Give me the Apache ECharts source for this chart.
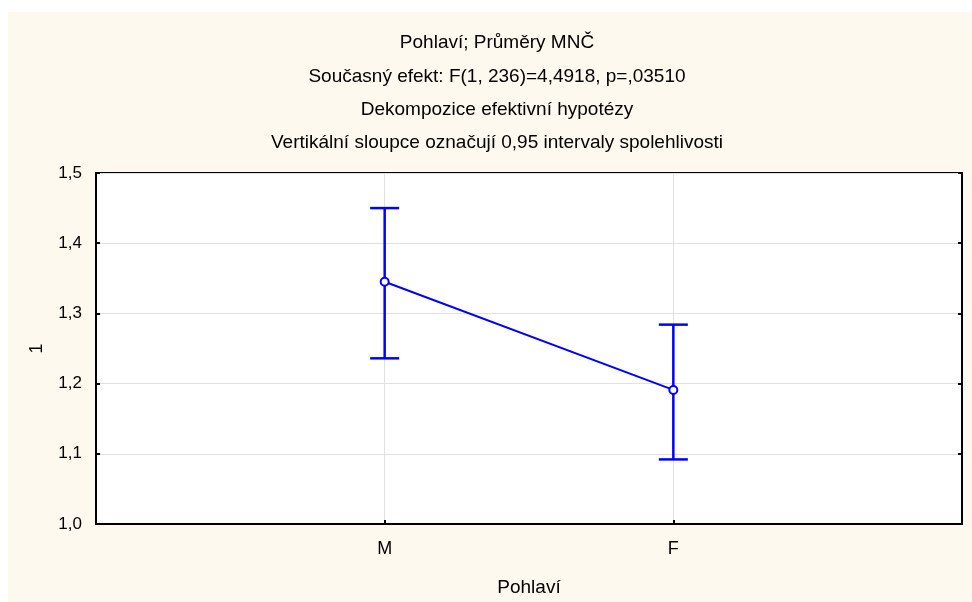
<!DOCTYPE html>
<html>
<head>
<meta charset="utf-8">
<script src="https://cdn.jsdelivr.net/npm/echarts@6/dist/echarts.min.js"></script>
<style>html,body{margin:0;padding:0;background:#fff;}#c{width:972px;height:602px;}</style>
</head>
<body>
<div id="c"></div>
<script>
const categories = ['', 'M', 'F', ''];
const means = [null, 1.345, 1.191, null];
const lower = [null, 1.236, 1.092, null];
const upper = [null, 1.450, 1.284, null];
const yTicks = [1.0, 1.1, 1.2, 1.3, 1.4, 1.5];
const titleLines = [
  'Pohlaví; Průměry MNČ',
  'Současný efekt: F(1, 236)=4,4918, p=,03510',
  'Dekompozice efektivní hypotézy',
  'Vertikální sloupce označují 0,95 intervaly spolehlivosti'
];

const FONT = 'Liberation Sans';
const chart = echarts.init(document.getElementById('c'));
const errData = categories.map((c, i) => [i, lower[i], upper[i]]).filter(d => d[1] != null);
const fmt = v => v.toFixed(1).replace('.', ',');

chart.setOption({
  backgroundColor: '#ffffff',
  animation: false,
  textStyle: { fontFamily: FONT },
  graphic: [
    { type: 'rect', z: -10, shape: { x: 8, y: 12, width: 964, height: 590 }, style: { fill: '#FEF9EE' } }
  ].concat(titleLines.map((t, i) => ({
    type: 'text', x: 497, y: 43 + i * 33.3, z: 10,
    style: { text: t, font: '19px "' + FONT + '"', fill: '#000', textAlign: 'center', textVerticalAlign: 'middle' }
  }))),
  grid: { left: 96, right: 10, top: 173, bottom: 77, show: true, backgroundColor: '#ffffff', borderColor: '#000', borderWidth: 2, containLabel: false },
  xAxis: {
    type: 'category', data: categories, boundaryGap: false,
    name: 'Pohlaví', nameLocation: 'middle', nameGap: 54,
    nameTextStyle: { fontSize: 19, color: '#000', fontFamily: FONT },
    axisLine: { show: true, lineStyle: { color: '#000', width: 2 } },
    axisTick: { show: true, inside: true, length: 4, interval: (i) => i === 1 || i === 2, lineStyle: { color: '#000', width: 2 } },
    axisLabel: { color: '#000', fontSize: 18, margin: 16, interval: 0, fontFamily: FONT },
    splitLine: { show: true, interval: (i) => i === 1 || i === 2, lineStyle: { color: '#e0e0e0', width: 1 } }
  },
  yAxis: [{
    type: 'value', min: 1.0, max: 1.5, interval: 0.1,
    name: '1', nameLocation: 'middle', nameGap: 50, nameRotate: 90,
    nameTextStyle: { fontSize: 18, color: '#000', fontFamily: FONT },
    axisLine: { show: true, lineStyle: { color: '#000', width: 2 } },
    axisTick: { show: true, inside: true, length: 4, lineStyle: { color: '#000', width: 2 } },
    axisLabel: { color: '#000', fontSize: 17, margin: 14, formatter: v => fmt(v), fontFamily: FONT, customValues: yTicks },
    splitLine: { show: true, lineStyle: { color: '#e0e0e0', width: 1 } }
  }, {
    type: 'value', min: 1.0, max: 1.5, interval: 0.1, position: 'right',
    axisLine: { show: true, lineStyle: { color: '#000', width: 2 } },
    axisTick: { show: true, inside: true, length: 4, lineStyle: { color: '#000', width: 2 } },
    axisLabel: { show: false }, splitLine: { show: false }
  }],
  series: [
    {
      type: 'custom', z: 3,
      data: errData,
      renderItem: function (params, api) {
        const x = api.value(0);
        const lo = api.coord([x, api.value(1)]);
        const hi = api.coord([x, api.value(2)]);
        const hw = 14.5;
        const st = { stroke: '#0000FF', lineWidth: 2.5, fill: null };
        return { type: 'group', children: [
          { type: 'line', shape: { x1: hi[0], y1: hi[1], x2: lo[0], y2: lo[1] }, style: st },
          { type: 'line', shape: { x1: hi[0] - hw, y1: hi[1], x2: hi[0] + hw, y2: hi[1] }, style: st },
          { type: 'line', shape: { x1: lo[0] - hw, y1: lo[1], x2: lo[0] + hw, y2: lo[1] }, style: st }
        ]};
      }
    },
    {
      type: 'line', data: means, z: 4,
      symbol: 'circle', symbolSize: 8, connectNulls: false,
      lineStyle: { color: '#0000FF', width: 2 },
      itemStyle: { color: '#ffffff', borderColor: '#0000FF', borderWidth: 2 }
    }
  ]
});
</script>
</body>
</html>
